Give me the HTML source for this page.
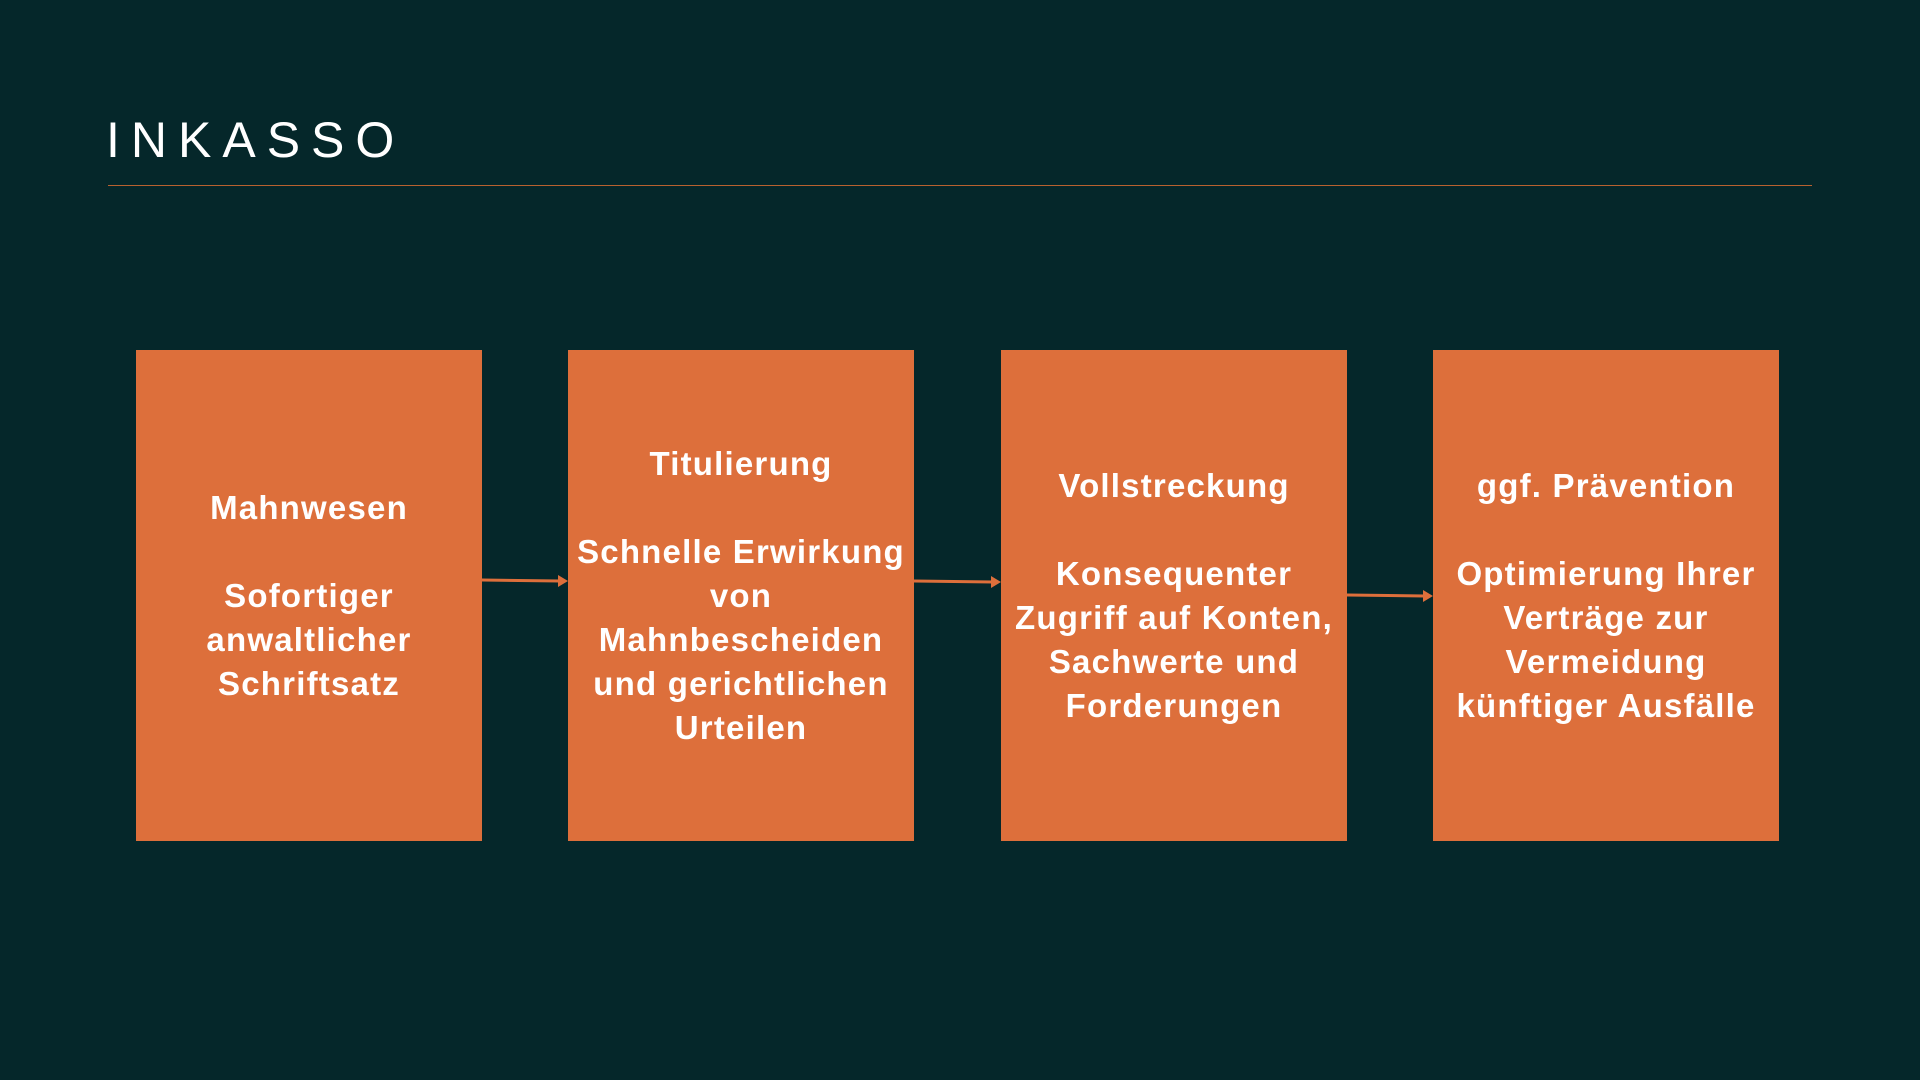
<!DOCTYPE html>
<html><head><meta charset="utf-8"><style>
html,body{margin:0;padding:0;}
body{width:1920px;height:1080px;background:#05272a;position:relative;overflow:hidden;font-family:"Liberation Sans",sans-serif;}
.title{position:absolute;left:106px;top:110px;color:#fff;font-size:50px;letter-spacing:11px;font-weight:normal;line-height:60px;}
.line{position:absolute;left:108px;top:185px;width:1704px;height:1px;background:#b8612f;}
.box{position:absolute;top:350px;width:346px;height:491px;background:#dd6f3b;color:#fff;font-weight:bold;font-size:33px;line-height:44px;text-align:center;display:flex;align-items:center;justify-content:center;letter-spacing:1.2px;}
.box div{width:100%;}
</style></head><body>
<div class="title">INKASSO</div>
<div class="line"></div>
<div class="box" style="left:136px"><div>Mahnwesen<br><br>Sofortiger<br>anwaltlicher<br>Schriftsatz</div></div>
<div class="box" style="left:568px"><div>Titulierung<br><br>Schnelle Erwirkung<br>von<br>Mahnbescheiden<br>und gerichtlichen<br>Urteilen</div></div>
<div class="box" style="left:1001px"><div>Vollstreckung<br><br>Konsequenter<br>Zugriff auf Konten,<br>Sachwerte und<br>Forderungen</div></div>
<div class="box" style="left:1433px"><div>ggf. Prävention<br><br>Optimierung Ihrer<br>Verträge zur<br>Vermeidung<br>künftiger Ausfälle</div></div>
<svg width="1920" height="1080" style="position:absolute;left:0;top:0">
<g stroke="#dd6f3b" stroke-width="3" fill="#dd6f3b">
<line x1="482" y1="580" x2="560" y2="581"/><polygon points="568,581 558,575 558,587" stroke="none"/>
<line x1="914" y1="581" x2="993" y2="582"/><polygon points="1001,582 991,576 991,588" stroke="none"/>
<line x1="1347" y1="595" x2="1425" y2="596"/><polygon points="1433,596 1423,590 1423,602" stroke="none"/>
</g></svg>
</body></html>
